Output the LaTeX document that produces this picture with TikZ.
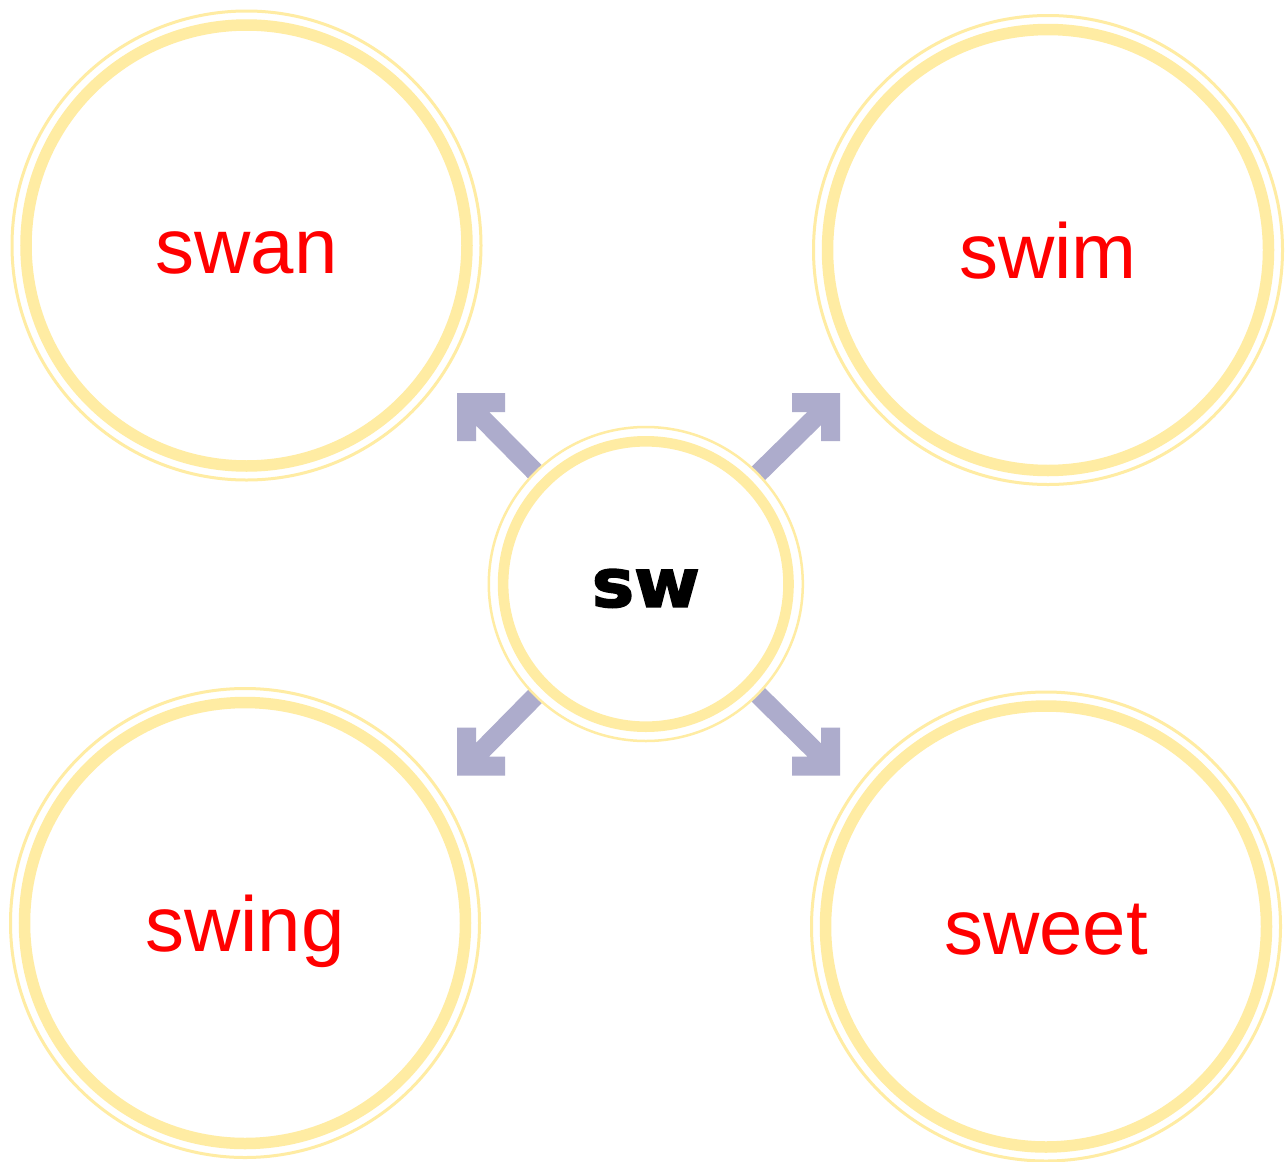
\documentclass[tikz,border=0pt]{standalone}
\usepackage{fontspec}
\setmainfont{Liberation Sans}
\newfontfamily\swfont{DejaVu Sans Bold}[FakeStretch=1.06,FakeBold=2.5]
\usetikzlibrary{backgrounds,calc}
\definecolor{ringY}{RGB}{255,236,163}
\definecolor{arrowC}{RGB}{173,172,204}
\begin{document}
\begin{tikzpicture}[x=1pt,y=-1pt,
  thinring/.style={circle,draw=ringY,line width=3pt,fill=white,inner sep=0pt,outer sep=0pt,minimum size=469pt},
  bigring/.style={circle,draw=ringY,line width=11.5pt,fill=white,inner sep=0pt,outer sep=0pt,minimum size=441pt,
    text=red,font=\fontsize{78}{90}\selectfont,text height=56pt,text depth=0pt},
  cthin/.style={circle,draw=ringY,line width=2.5pt,fill=white,inner sep=0pt,outer sep=0pt,minimum size=314pt},
  cthick/.style={circle,draw=ringY,line width=10.6pt,fill=white,inner sep=0pt,outer sep=0pt,minimum size=285.4pt,
    text=black,font=\swfont\fontsize{67}{80}\selectfont,text height=45.4pt,text depth=0pt},
  arrowline/.style={draw=arrowC,line width=19pt,line join=miter,line cap=butt}]
\useasboundingbox (0,0) rectangle (1288,1162);
% outer circles
\node[thinring] (tlo) at (246.5,245.5) {};
\node[bigring] (tl) at (tlo.center) {swan};
\node[thinring] (tro) at (1048,250) {};
\node[bigring] (tr) at (tro.center) {swim};
\node[thinring] (blo) at (245,923) {};
\node[bigring] (bl) at (blo.center) {swing};
\node[thinring] (bro) at (1046,926.5) {};
\node[bigring] (br) at (bro.center) {sweet};
% centre
\node[cthin] (co) at (645.8,584) {};
\node[cthick] (c) at (co.center) {sw};
% arrow tips
\coordinate (tA) at (466.5,402.5);
\coordinate (tB) at (830.5,402.5);
\coordinate (tC) at (466.5,766);
\coordinate (tD) at (830.5,766);
\begin{pgfonlayer}{background}
\fill[white] (0,0) rectangle (1288,1162);
\draw[arrowline] (c.center) -- (tA) ($(tA)+(38.5,0)$) -- (tA) -- ($(tA)+(0,38.5)$);
\draw[arrowline] (c.center) -- (tB) ($(tB)+(-38.5,0)$) -- (tB) -- ($(tB)+(0,38.5)$);
\draw[arrowline] (c.center) -- (tC) ($(tC)+(38.5,0)$) -- (tC) -- ($(tC)+(0,-38.5)$);
\draw[arrowline] (c.center) -- (tD) ($(tD)+(-38.5,0)$) -- (tD) -- ($(tD)+(0,-38.5)$);
\end{pgfonlayer}
\end{tikzpicture}
\end{document}
